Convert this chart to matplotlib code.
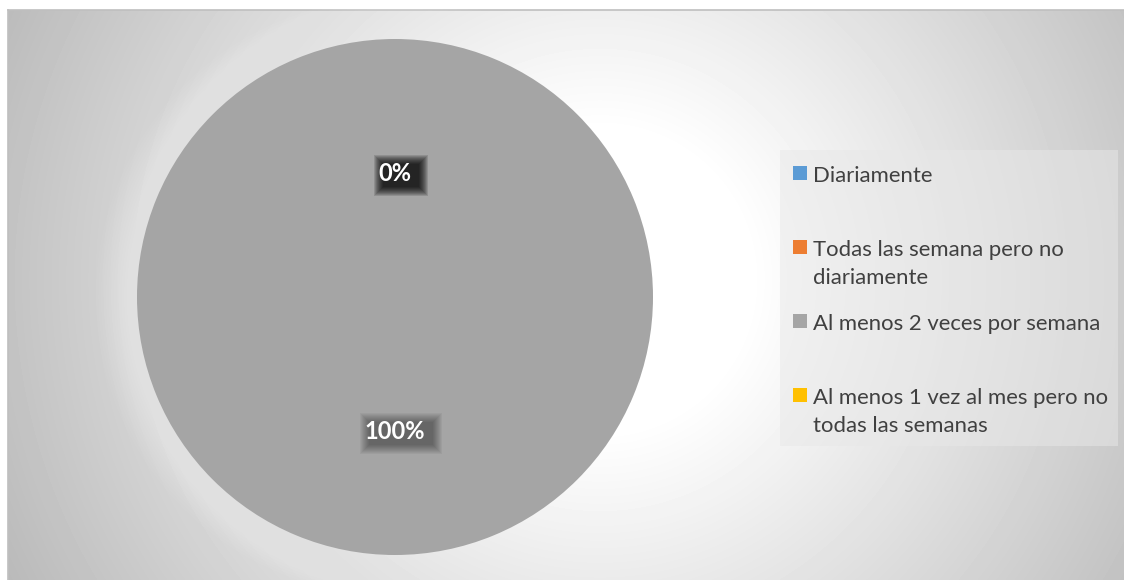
import numpy as np
import matplotlib.pyplot as plt
from matplotlib.patches import Rectangle
from matplotlib.transforms import IdentityTransform

plt.rcParams['font.family'] = ['Lato', 'DejaVu Sans']

categorias = ['Diariamente',
              'Todas las semana pero no\ndiariamente',
              'Al menos 2 veces por semana',
              'Al menos 1 vez al mes pero no\ntodas las semanas']
valores = [0, 0, 100, 0]
colores = ['#5b9bd5', '#ed7d31', '#a5a5a5', '#ffc000']

W, H = 1124, 580
fig = plt.figure(figsize=(W / 100, H / 100), dpi=100)
fig.patch.set_facecolor('white')

# fondo del area del grafico: degradado radial claro en el centro
bg = fig.add_axes([8 / W, 0, 1 - 8 / W, 1 - 10 / H])
xs = np.arange(8, W) + 0.5
ys = np.arange(10, H) + 0.5
gx, gy = np.meshgrid(xs, ys)
d = np.hypot(gx - 600, gy - 280)
tono = np.clip(255 - 0.135 * np.clip(d - 150, 0, None), 0, 255)
bg.imshow(tono, cmap='gray', vmin=0, vmax=255, aspect='auto',
          extent=(0, 1, 0, 1), origin='upper', interpolation='bilinear')
bg.set_xticks([])
bg.set_yticks([])
for lado in ['right', 'bottom']:
    bg.spines[lado].set_visible(False)
for lado in ['top', 'left']:
    bg.spines[lado].set_color('#bfbfbf')
    bg.spines[lado].set_linewidth(1.2)

# circulo
R = 258
cx, cy = 395, H - 297
ax = fig.add_axes([(cx - 1.2 * R) / W, (cy - 1.2 * R) / H, 2.4 * R / W, 2.4 * R / H])
ax.patch.set_alpha(0)
wedges, textos, autotextos = ax.pie(
    valores, colors=colores, startangle=90, counterclock=False, radius=1,
    autopct=lambda p: f'{p:.0f}%', pctdistance=0.5,
    textprops=dict(color='white', fontweight='bold', fontsize=17))
ax.set_xlim(-1.2, 1.2)
ax.set_ylim(-1.2, 1.2)
ax.axis('off')

# resplandor alrededor del circulo
for k in range(16):
    ax.add_patch(plt.Circle((0, 0), 1 + 0.01 * (k + 1), color='white',
                            alpha=0.03, lw=0, zorder=0.5))

for t in autotextos:
    x, y = t.get_position()
    t.set_position((x, y - 0.023))
    t.set_zorder(3)

# recuadro oscuro difuminado detras de cada etiqueta (se superponen en los 0%)
fig.canvas.draw()
rend = fig.canvas.get_renderer()
capas = 10
alfa = 1 - 0.64 ** (1 / capas)
for t in autotextos:
    bb = t.get_window_extent(rend)
    mx = (bb.x0 + bb.x1) / 2 + 6
    my = (bb.y0 + bb.y1) / 2 - 1.5
    hw = bb.width / 2 + 10.5
    hh = bb.height / 2 + 9
    for e in range(capas):
        ax.add_patch(Rectangle((mx - hw + e, my - hh + e), 2 * (hw - e), 2 * (hh - e),
                               transform=IdentityTransform(), fc='black', ec='none',
                               alpha=alfa, zorder=2, clip_on=False))

# las etiquetas de valor 0 caen en el mismo punto: queda visible una sola
vistas = set()
for t in autotextos:
    clave = tuple(np.round(t.get_position(), 4))
    if clave in vistas:
        t.set_visible(False)
    vistas.add(clave)

# leyenda
lx0, lx1, ly0, ly1 = 780, 1118, 150, 446
lg = fig.add_axes([lx0 / W, 1 - ly1 / H, (lx1 - lx0) / W, (ly1 - ly0) / H])
lg.set_xlim(0, lx1 - lx0)
lg.set_ylim(ly1 - ly0, 0)
lg.patch.set_facecolor('#e8e8e8')
lg.patch.set_alpha(0.5)
lg.set_xticks([])
lg.set_yticks([])
for s in lg.spines.values():
    s.set_visible(False)
alto = (ly1 - ly0) / len(categorias)
for i, (cat, col) in enumerate(zip(categorias, colores)):
    base = i * alto + 29.5
    lg.scatter([20], [base - 6.5], marker='s', s=88, color=col, lw=0)
    lg.text(33, base - 14, cat, fontsize=15.9, color='#404040', va='top',
            ha='left', linespacing=1.5)

fig.savefig('out.png', dpi=100)
